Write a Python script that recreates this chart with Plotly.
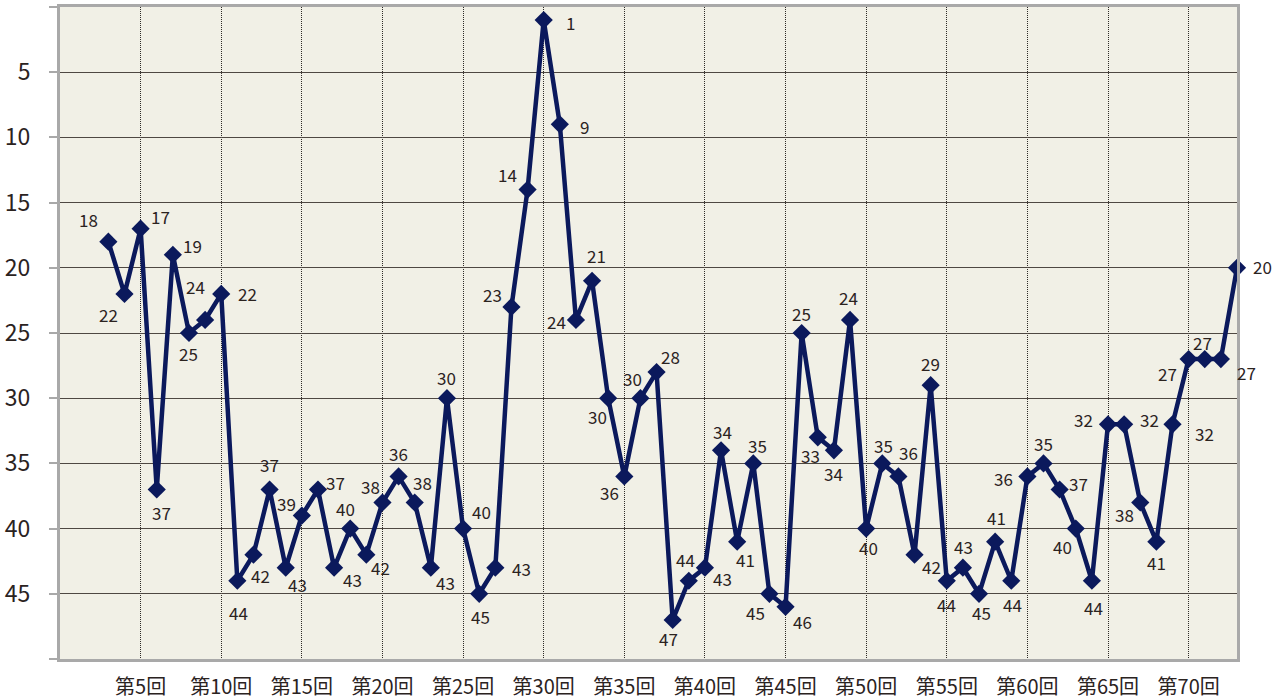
import plotly.graph_objects as go

# Race numbers and finishing rank for each race
RACE_NO = list(range(3, 74))
RANK = [
    18, 22, 17, 37, 19, 25, 24, 22, 44, 42,
    37, 43, 39, 37, 43, 40, 42, 38, 36, 38,
    43, 30, 40, 45, 43, 23, 14, 1, 9, 24,
    21, 30, 36, 30, 28, 47, 44, 43, 34, 41,
    35, 45, 46, 25, 33, 34, 24, 40, 35, 36,
    42, 29, 44, 43, 45, 41, 44, 36, 35, 37,
    40, 44, 32, 32, 38, 41, 32, 27, 27, 27,
    20,
]

# Axis ticks
X_TICKS = [5, 10, 15, 20, 25, 30, 35, 40, 45, 50, 55, 60, 65, 70]
X_TICK_TEXT = ["第5回", "第10回", "第15回", "第20回", "第25回", "第30回", "第35回",
               "第40回", "第45回", "第50回", "第55回", "第60回", "第65回", "第70回"]
Y_TICKS = [0, 5, 10, 15, 20, 25, 30, 35, 40, 45, 50]
Y_TICK_TEXT = ["", "5", "10", "15", "20", "25", "30", "35", "40", "45", ""]

# Pixel offset (right, down) of each value label from its marker
LABEL_SHIFT = {
    3: (-20, -22), 4: (-16, 21), 5: (20, -12), 6: (5, 23), 7: (20, -9),
    8: (0, 20), 9: (-10, -33), 10: (26, 0), 11: (1, 32), 12: (7, 21),
    13: (0, -25), 14: (12, 17), 15: (-15, -12), 16: (18, -7), 17: (18, 12),
    18: (-5, -20), 19: (14, 13), 20: (-12, -16), 21: (0, -23), 22: (8, -20),
    23: (15, 15), 24: (0, -21), 25: (18, -17), 26: (1, 23), 27: (26, 1),
    28: (-19, -12), 29: (-20, -15), 30: (27, 2), 31: (25, 2), 32: (-19, 2),
    33: (4, -25), 34: (-11, 18), 35: (-15, 16), 36: (-8, -20), 37: (14, -16),
    38: (-4, 19), 39: (-3, -21), 40: (18, 11), 41: (1, -19), 42: (8, 18),
    43: (4, -18), 44: (-14, 19), 45: (17, 15), 46: (0, -20), 47: (-7, 18),
    48: (0, 23), 49: (-2, -22), 50: (2, 19), 51: (1, -18), 52: (10, -24),
    53: (17, 12), 54: (0, -22), 55: (0, 24), 56: (1, -21), 57: (2, 19),
    58: (1, -24), 59: (1, 24), 60: (-24, 2), 61: (0, -20), 62: (19, -6),
    63: (-13, 18), 64: (2, 27), 65: (-25, -5), 66: (25, -5), 67: (-16, 12),
    68: (0, 21), 69: (32, 9), 70: (-21, 14), 71: (-2, -17), 72: (26, 13),
    73: (25, -1),
}

NAVY = "#0b195c"
TEXT = "#2b231f"
BORDER = "#a9a9a9"
FONT = "Noto Sans CJK JP"

fig = go.Figure()
fig.add_trace(go.Scatter(
    x=RACE_NO,
    y=RANK,
    mode="lines+markers",
    line=dict(color=NAVY, width=4.5),
    marker=dict(symbol="diamond", size=14, color=NAVY),
    cliponaxis=False,
    hoverinfo="x+y",
))

for race, rank in zip(RACE_NO, RANK):
    dx, dy = LABEL_SHIFT[race]
    fig.add_annotation(
        x=race, y=rank, text=str(rank), showarrow=False,
        xshift=dx, yshift=-dy,
        font=dict(family=FONT, size=17, color=TEXT),
    )

fig.update_layout(
    width=1280, height=700,
    margin=dict(l=60, r=43, t=7, b=41),
    paper_bgcolor="white",
    plot_bgcolor="#f1f0e6",
    showlegend=False,
    font=dict(family=FONT, color=TEXT),
)

fig.update_xaxes(
    range=[0, 73], automargin=False,
    tickmode="array", tickvals=X_TICKS, ticktext=X_TICK_TEXT,
    tickfont=dict(family=FONT, size=20, color=TEXT),
    showgrid=True, gridcolor="#2e2a26", gridwidth=1, griddash="1px,1px",
    showline=True, linecolor=BORDER, linewidth=3, mirror=True,
    ticks="", ticklabelstandoff=8,
    zeroline=False,
)

fig.update_yaxes(
    range=[50, 0], automargin=False,
    tickmode="array", tickvals=Y_TICKS, ticktext=Y_TICK_TEXT,
    tickfont=dict(family=FONT, size=23, color=TEXT),
    showgrid=True, gridcolor="#4e4842", gridwidth=1.3,
    showline=True, linecolor=BORDER, linewidth=3, mirror=True,
    ticks="outside", ticklen=8, tickwidth=2, tickcolor=BORDER,
    ticklabelstandoff=14,
    zeroline=False,
)

fig.write_html("out.html")
